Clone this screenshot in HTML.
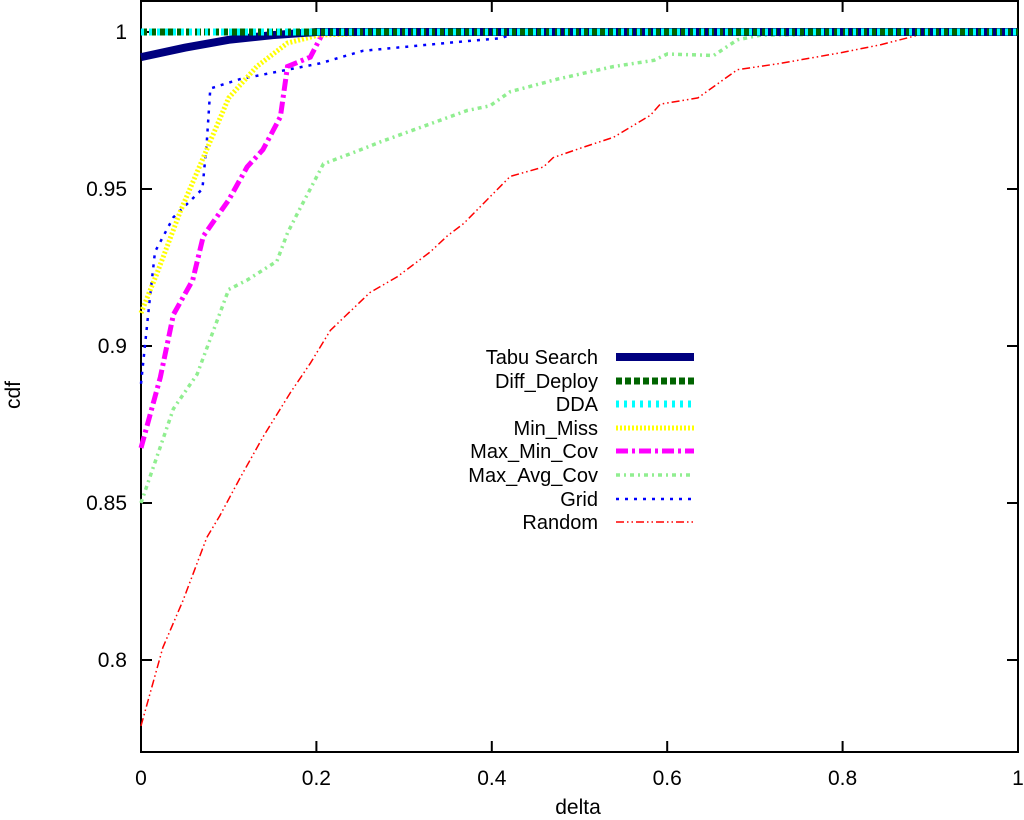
<!DOCTYPE html>
<html><head><meta charset="utf-8"><style>
body{margin:0;background:#fff;}
svg{display:block;font-family:"Liberation Sans",sans-serif;}
</style></head><body>
<svg id="chart" width="1024" height="820">
<g id="axes"></g><g id="series"></g><g id="legend"></g>
</svg>
<script>
const xTicks=[0,0.2,0.4,0.6,0.8,1];
const xTickLabels=["0","0.2","0.4","0.6","0.8","1"];
const yTicks=[0.8,0.85,0.9,0.95,1];
const yTickLabels=["0.8","0.85","0.9","0.95","1"];
const seriesNames=["Tabu Search","Diff_Deploy","DDA","Min_Miss","Max_Min_Cov","Max_Avg_Cov","Grid","Random"];
const tabuX=[0,0.05,0.1,0.15,0.2,1];
const tabuY=[0.992,0.995,0.9975,0.999,1,1];
const diffX=[0,1];const diffY=[1,1];
const ddaX=[0,1];const ddaY=[1,1];
const minMissX=[0,0.018,0.045,0.071,0.1,0.132,0.167,0.202,0.3,1];
const minMissY=[0.9105,0.923,0.943,0.96,0.979,0.989,0.9965,0.999,1,1];
const maxMinX=[0,0.022,0.037,0.059,0.071,0.1,0.121,0.139,0.159,0.167,0.193,0.208,1];
const maxMinY=[0.8675,0.89,0.91,0.921,0.935,0.9465,0.957,0.9625,0.973,0.989,0.992,1,1];
const maxAvgX=[0,0.037,0.064,0.1,0.121,0.155,0.167,0.178,0.208,0.246,0.273,0.372,0.398,0.421,0.475,0.539,0.585,0.6,0.653,0.68,0.707,1];
const maxAvgY=[0.85,0.88,0.891,0.918,0.921,0.927,0.936,0.942,0.958,0.962,0.965,0.975,0.9765,0.981,0.985,0.989,0.991,0.993,0.9925,0.9975,0.999,1];
const gridX=[0,0.01,0.016,0.037,0.07,0.075,0.079,0.113,0.167,0.204,0.253,0.368,0.41,0.43,1];
const gridY=[0.888,0.915,0.93,0.941,0.95,0.965,0.982,0.985,0.988,0.99,0.994,0.997,0.998,1,1];
const randX=[0,0.025,0.048,0.075,0.09,0.113,0.139,0.17,0.193,0.216,0.261,0.292,0.33,0.349,0.368,0.421,0.459,0.47,0.501,0.539,0.581,0.592,0.635,0.68,0.729,0.8,0.844,0.9,1];
const randY=[0.779,0.804,0.819,0.839,0.846,0.858,0.871,0.885,0.8945,0.905,0.917,0.922,0.93,0.935,0.939,0.954,0.957,0.96,0.963,0.9665,0.9735,0.977,0.979,0.988,0.99,0.9935,0.996,1,1];

const L=141,R=1018,T=1,B=752;
const sx=v=>L+v*(R-L)/1;
const sy=v=>32+(1-v)*157/0.05;
const NS="http://www.w3.org/2000/svg";
function mk(tag,attrs,parent){const e=document.createElementNS(NS,tag);for(const k in attrs)e.setAttribute(k,attrs[k]);parent.appendChild(e);return e;}
const axes=document.getElementById('axes');
const frame=mk('rect',{x:L,y:T,width:R-L,height:B-T,fill:'none',stroke:'#000','stroke-width':2},axes);


xTicks.forEach((t,i)=>{
 const x=sx(t);
 const a=mk('line',{x1:x,x2:x,y1:B,y2:B-11,stroke:'#000','stroke-width':2},axes);
 
 const b=mk('line',{x1:x,x2:x,y1:T,y2:T+11,stroke:'#000','stroke-width':2},axes);
 
 const tx=mk('text',{x:x,y:785,'font-size':21,'text-anchor':'middle'},axes);tx.textContent=xTickLabels[i];
 
});
yTicks.forEach((t,i)=>{
 const y=sy(t);
 const a=mk('line',{x1:L,x2:L+11,y1:y,y2:y,stroke:'#000','stroke-width':2},axes);
 
 const b=mk('line',{x1:R,x2:R-11,y1:y,y2:y,stroke:'#000','stroke-width':2},axes);
 
 const tx=mk('text',{x:127,y:y+7,'font-size':21,'text-anchor':'end'},axes);tx.textContent=yTickLabels[i];
 
});
const xt=mk('text',{x:578,y:814,'font-size':21,'text-anchor':'middle'},axes);xt.textContent='delta';

const yt=mk('text',{x:20,y:395,'font-size':21,'text-anchor':'middle',transform:'rotate(-90 20 395)'},axes);yt.textContent='cdf';


const styles=[
 {xs:tabuX,ys:tabuY,c:'#00007f',w:8,d:''},
 {xs:diffX,ys:diffY,c:'#006400',w:7,d:'6 3'},
 {xs:ddaX,ys:ddaY,c:'#00ffff',w:7,d:'3 5'},
 {xs:minMissX,ys:minMissY,c:'#ffff00',w:5,d:'2 2'},
 {xs:maxMinX,ys:maxMinY,c:'#ff00ff',w:5,d:'12 4 3 4'},
 {xs:maxAvgX,ys:maxAvgY,c:'#90ee90',w:3.5,d:'4 4 2 4'},
 {xs:gridX,ys:gridY,c:'#0000ff',w:2.5,d:'3 6'},
 {xs:randX,ys:randY,c:'#ff0000',w:1.5,d:'8 3 1.5 3 1.5 3'}
];
const sg=document.getElementById('series'),lg=document.getElementById('legend');
const legY=[357,381,404,428,451,475,499,522];
const order=[7,6,5,4,3,0,1,2];
order.forEach(i=>{
 const s=styles[i];
 const pts=s.xs.map((x,k)=>sx(x).toFixed(1)+','+sy(s.ys[k]).toFixed(1)).join(' ');
 const p=mk('polyline',{points:pts,fill:'none',stroke:s.c,'stroke-width':s.w,'stroke-dasharray':s.d},sg);
 
});
styles.forEach((s,i)=>{
 const y=legY[i];
 const t=mk('text',{x:598,y:y+7,'font-size':20,'text-anchor':'end'},lg);t.textContent=seriesNames[i];
 
 const l=mk('line',{x1:616,x2:694,y1:y,y2:y,stroke:s.c,'stroke-width':s.w,'stroke-dasharray':s.d},lg);
 
});
</script>
</body></html>
